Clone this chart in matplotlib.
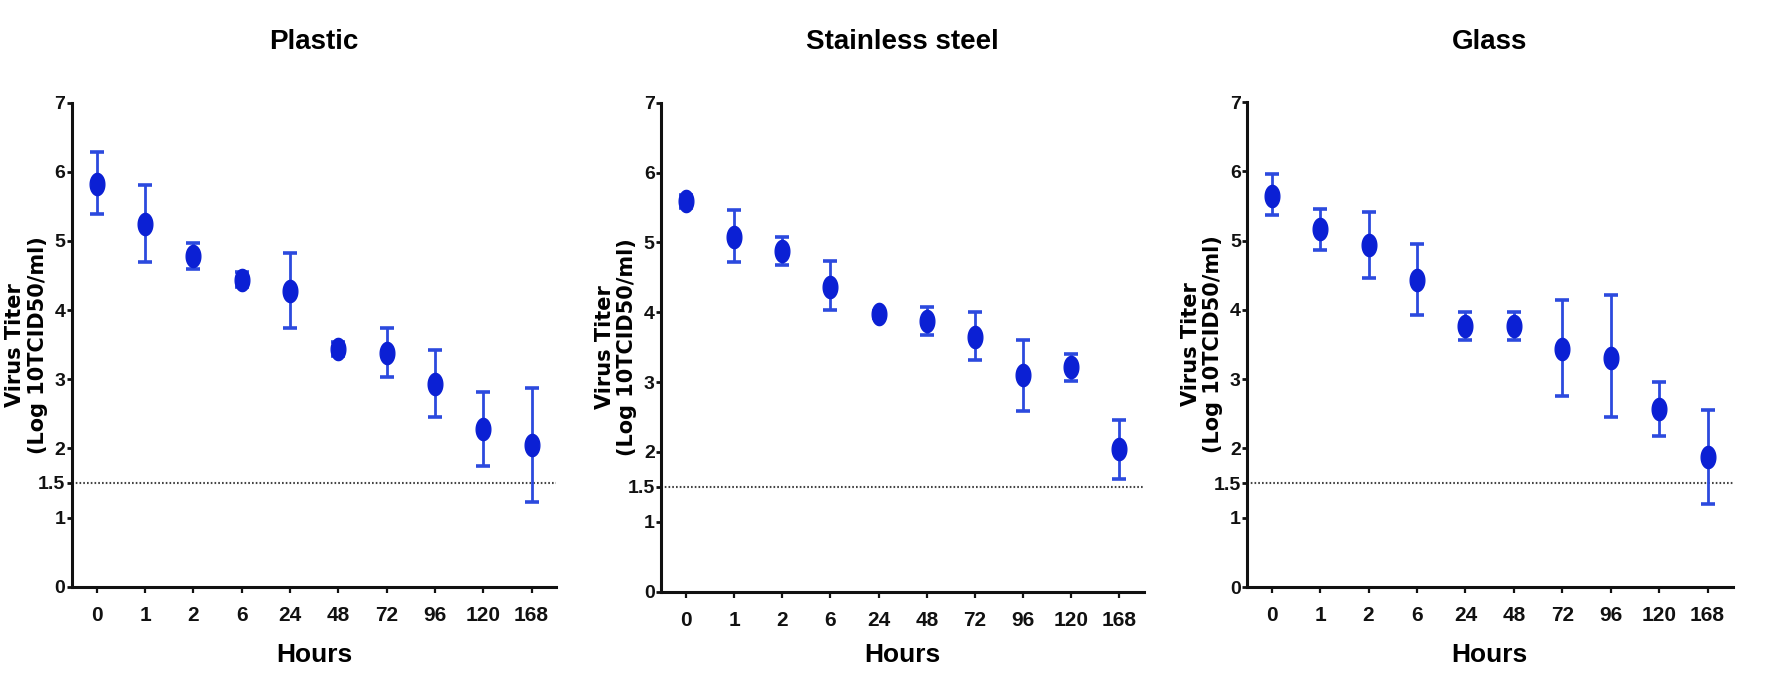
import matplotlib
matplotlib.use("Agg")
import matplotlib.pyplot as plt
import numpy as np
from matplotlib.path import Path
from matplotlib import font_manager

hours = ["0", "1", "2", "6", "24", "48", "72", "96", "120", "168"]
titles = ["Plastic", "Stainless steel", "Glass"]

plastic_mean = [5.83, 5.25, 4.78, 4.44, 4.27, 3.44, 3.38, 2.93, 2.28, 2.05]
plastic_upper = [6.29, 5.81, 4.97, 4.55, 4.82, 3.54, 3.74, 3.43, 2.82, 2.88]
plastic_lower = [5.39, 4.70, 4.59, 4.34, 3.74, 3.34, 3.03, 2.46, 1.74, 1.23]

steel_mean = [5.59, 5.08, 4.87, 4.36, 3.97, 3.87, 3.65, 3.10, 3.21, 2.04]
steel_upper = [5.68, 5.47, 5.08, 4.74, 4.02, 4.07, 4.00, 3.60, 3.40, 2.46]
steel_lower = [5.49, 4.72, 4.67, 4.03, 3.92, 3.67, 3.32, 2.59, 3.01, 1.62]

glass_mean = [5.65, 5.16, 4.93, 4.43, 3.76, 3.76, 3.43, 3.31, 2.57, 1.87]
glass_upper = [5.96, 5.45, 5.41, 4.95, 3.97, 3.97, 4.14, 4.21, 2.96, 2.56]
glass_lower = [5.37, 4.87, 4.46, 3.92, 3.57, 3.57, 2.75, 2.46, 2.18, 1.20]

detection_limit = 1.5
yticks = [0, 1, 1.5, 2, 3, 4, 5, 6, 7]
ytick_labels = ["0", "1", "1.5", "2", "3", "4", "5", "6", "7"]

series = [
    (plastic_mean, plastic_upper, plastic_lower),
    (steel_mean, steel_upper, steel_lower),
    (glass_mean, glass_upper, glass_lower),
]

avail = {f.name for f in font_manager.fontManager.ttflist}
narrow = "Liberation Sans Narrow" if "Liberation Sans Narrow" in avail else "Liberation Sans"
plt.rcParams["font.family"] = [narrow, "DejaVu Sans"]

# vertical ellipse marker
t = np.linspace(0, 2 * np.pi, 60)
ell = Path(np.column_stack([0.66 * np.cos(t), np.sin(t)]), closed=True)

fig = plt.figure(figsize=(17.67, 6.75), dpi=100)
# axes boxes in pixels: left, right, top, bottom
boxes = [
    (71.7, 556.2, 102.7, 586.7),
    (661.0, 1144.0, 102.7, 591.7),
    (1247.0, 1732.7, 102.0, 587.0),
]
xlims = [(-0.518, 9.51), (-0.517, 9.51), (-0.51, 9.52)]
W, H = 1767.0, 675.0

marker_color = "#0b20d4"
err_color = "#2c4ade"

for i, (box, (m, up, lo)) in enumerate(zip(boxes, series)):
    l, r, tp, bt = box
    ax = fig.add_axes([l / W, 1 - bt / H, (r - l) / W, (bt - tp) / H])
    x = np.arange(len(hours))
    m = np.array(m); up = np.array(up); lo = np.array(lo)
    yerr = np.vstack([m - lo, up - m])
    ax.errorbar(x, m, yerr=yerr, fmt="none", ecolor=err_color, elinewidth=2.0,
                capsize=5, capthick=2.6, zorder=3)
    ax.plot(x, m, linestyle="none", marker=ell, markersize=16,
            color=marker_color, zorder=4)
    ax.axhline(detection_limit, color="#444444", linestyle=(0, (0.8, 1.0)),
               linewidth=1.5, zorder=2)
    ax.set_xlim(*xlims[i])
    ax.set_ylim(0, 7)
    ax.set_xticks(x)
    ax.set_xticklabels(hours, fontsize=15, fontweight="bold")
    ax.set_yticks(yticks)
    ax.set_yticklabels(ytick_labels, fontsize=14, fontweight="bold")
    for s in ["top", "right"]:
        ax.spines[s].set_visible(False)
    for s in ["left", "bottom"]:
        ax.spines[s].set_linewidth(2.2)
        ax.spines[s].set_color("#111111")
    ax.tick_params(axis="y", length=3.5, width=2, pad=1, colors="#111111")
    ax.tick_params(axis="x", length=4, width=1.6, pad=10, colors="#111111")
    ax.set_xlabel("Hours", fontsize=19, fontweight="bold")
    ax.xaxis.set_label_coords(0.5, -(655 - bt) / (bt - tp))
    ax.xaxis.label.set_va("center")
    ax.set_ylabel("Virus Titer\n(Log 10TCID50/ml)", fontsize=15,
                  fontweight="bold", family=["DejaVu Sans"], linespacing=1.15)
    ax.yaxis.set_label_coords(-24 / (r - l), 0.5)
    fig.text((l + r) / 2 / W, 1 - 42 / H, titles[i], fontsize=20,
             fontweight="bold", ha="center", va="center")

fig.savefig("out.png", dpi=100, facecolor="white")
